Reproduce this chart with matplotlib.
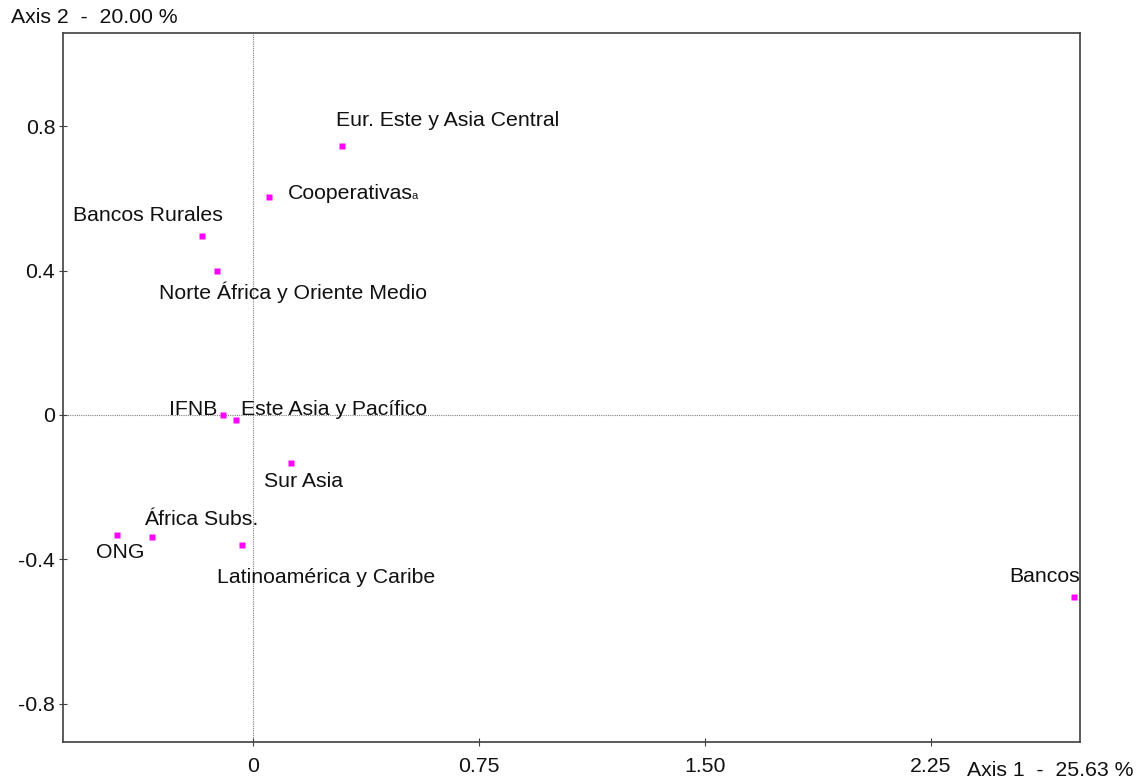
import numpy as np
import matplotlib.pyplot as plt

plt.rcParams['font.family'] = ['Liberation Sans', 'DejaVu Sans']

# factor coordinates on the first two axes
labels = ["Eur. Este y Asia Central", "Cooperativas", "Bancos Rurales",
          "Norte África y Oriente Medio", "IFNB", "Este Asia y Pacífico",
          "Sur Asia", "África Subs.", "ONG", "Latinoamérica y Caribe", "Bancos"]
axis1 = [0.296, 0.053, -0.170, -0.120, -0.100, -0.058, 0.127, -0.335, -0.452, -0.038, 2.726]
axis2 = [0.745, 0.605, 0.495, 0.398, 0.000, -0.015, -0.133, -0.337, -0.332, -0.360, -0.505]

# label offsets in pixels (left edge / baseline of text relative to the point)
offsets = [(-6, 20), (19, -2), (-129, 15), (-58, -28), (-54, 0), (5, 5),
           (-27, -24), (-8, 12), (-21, -23), (-25, -38), (-65, 15)]

xticks = [0, 0.75, 1.50, 2.25]
xticklabels = ["0", "0.75", "1.50", "2.25"]
yticks = [-0.8, -0.4, 0, 0.4, 0.8]
yticklabels = ["-0.8", "-0.4", "0", "0.4", "0.8"]

fs = 15.3
fig = plt.figure(figsize=(11.42, 7.78), dpi=100)
ax = fig.add_axes([0.0556, 0.0467, 0.8904, 0.9109])

ax.axvline(0, color="#808080", lw=0.8, ls=(0, (1, 1)), zorder=1)
ax.axhline(0, color="#808080", lw=0.8, ls=(0, (1, 1)), zorder=1)
ax.plot(axis1, axis2, "s", color="#ff00ff", ms=4.3, mec="none", zorder=3)

texts = []
for lab, x, y, (dx, dy) in zip(labels, axis1, axis2, offsets):
    t = ax.annotate(lab, (x, y), xytext=(dx, dy), textcoords="offset pixels",
                    ha="left", va="baseline", fontsize=fs, color="#111111")
    texts.append(t)

ax.set_xlim(-0.630, 2.747)
ax.set_ylim(-0.905, 1.058)
ax.set_xticks(xticks)
ax.set_xticklabels(xticklabels)
ax.set_yticks(yticks)
ax.set_yticklabels(yticklabels)
ax.tick_params(direction="inout", length=6, width=0.8, colors="#404040",
               labelcolor="#111111", labelsize=fs)
ax.tick_params(axis="x", pad=8)
ax.tick_params(axis="y", pad=3)
for s in ax.spines.values():
    s.set_color("#404040")
    s.set_linewidth(1.2)

fig.text(11 / 1142, 1 - 23 / 778, "Axis 2  -  20.00 %", fontsize=fs,
         ha="left", va="baseline", color="#111111")
fig.text(967 / 1142, 2 / 778, "Axis 1  -  25.63 %", fontsize=fs,
         ha="left", va="baseline", color="#111111")

# small trailing "a" after Cooperativas
fig.canvas.draw()
bb = texts[1].get_window_extent()
base = ax.transData.transform((axis1[1], axis2[1]))[1] - 2
fx, fy = fig.transFigure.inverted().transform((bb.x1 - 2, base))
fig.text(fx, fy, "a", fontsize=8, ha="left", va="baseline", color="#111111")

fig.savefig("out.png", dpi=100)
